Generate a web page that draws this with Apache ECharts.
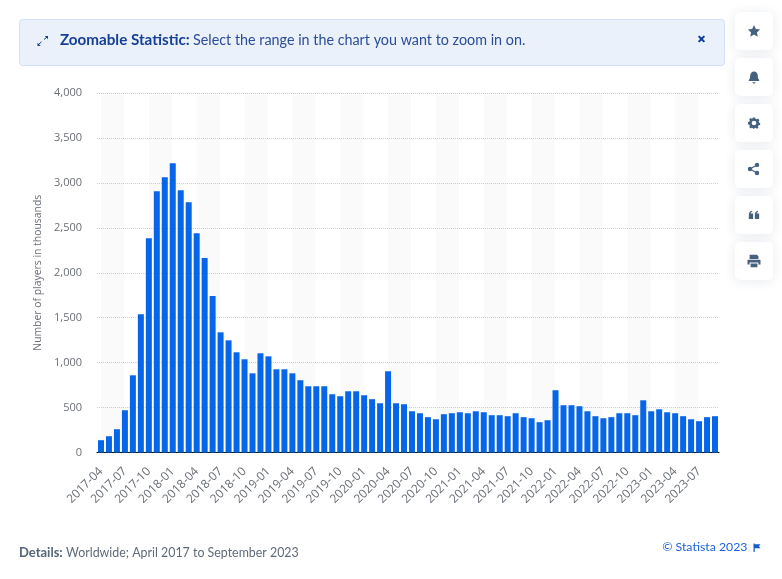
<!DOCTYPE html>
<html><head><meta charset="utf-8">
<style>html,body{margin:0;padding:0;background:#fff;overflow:hidden}#c{width:782px;height:579px}</style>
<script src="https://cdn.jsdelivr.net/npm/echarts@6/dist/echarts.min.js"></script>
</head><body><div id="c"></div>
<script>
const categories = ["2017-04","2017-05","2017-06","2017-07","2017-08","2017-09","2017-10","2017-11","2017-12",
"2018-01","2018-02","2018-03","2018-04","2018-05","2018-06","2018-07","2018-08","2018-09","2018-10","2018-11","2018-12",
"2019-01","2019-02","2019-03","2019-04","2019-05","2019-06","2019-07","2019-08","2019-09","2019-10","2019-11","2019-12",
"2020-01","2020-02","2020-03","2020-04","2020-05","2020-06","2020-07","2020-08","2020-09","2020-10","2020-11","2020-12",
"2021-01","2021-02","2021-03","2021-04","2021-05","2021-06","2021-07","2021-08","2021-09","2021-10","2021-11","2021-12",
"2022-01","2022-02","2022-03","2022-04","2022-05","2022-06","2022-07","2022-08","2022-09","2022-10","2022-11","2022-12",
"2023-01","2023-02","2023-03","2023-04","2023-05","2023-06","2023-07","2023-08","2023-09"];
const players = [137,181,259,470,859,1537,2385,2907,3063,3218,2918,2785,2440,2163,1740,1337,1248,1115,1037,881,1104,1070,
926,926,881,804,737,737,737,648,626,681,681,637,593,548,904,548,537,459,437,393,370,426,437,448,437,459,448,415,415,404,
437,393,381,337,359,693,526,526,515,459,404,381,393,437,437,415,581,459,481,448,437,404,370,348,393,404];
const bandStarts = ["2017-04","2017-10","2018-04","2018-10","2019-04","2019-10","2020-04","2020-10","2021-04","2021-10","2022-04","2022-10","2023-04"];
const bandEnds   = ["2017-07","2018-01","2018-07","2019-01","2019-07","2020-01","2020-07","2021-01","2021-07","2022-01","2022-07","2023-01","2023-07"];
const yTicks = {min:0,max:4000,interval:500};
const yTitle = "Number of players in thousands";
const noticeBold = "Zoomable Statistic:";
const noticeText = "Select the range in the chart you want to zoom in on.";
const detailsBold = "Details:";
const detailsText = "Worldwide; April 2017 to September 2023";
const copyright = "© Statista 2023";

const FONT = '"Open Sans"';
const TEXTFONT = 'Lato';
const ICON = '#46607f';
const buttonTops = [12,58,104,150,196,242];
const buttons = buttonTops.map(t => ({type:'rect',shape:{x:735,y:t,width:38,height:38,r:5},
  style:{fill:'#fff',shadowBlur:12,shadowColor:'rgba(20,50,100,0.10)',shadowOffsetY:1},silent:true}));
let iconId = 0;
const at = (x,y,d,extra) => {
  const name = 'iconShape' + (iconId++);
  echarts.graphic.registerShape(name, echarts.graphic.extendPath(d, {}));
  return Object.assign({type:name,x,y,style:{fill:ICON},silent:true},extra||{});
};
const icons = [
  at(754,31,'M0-6.5L2-2.2 6.6-1.6 3.2 1.6 4.1 6.2 0 3.9-4.1 6.2-3.2 1.6-6.6-1.6-2-2.2Z',{scaleX:.92,scaleY:.92}),
  at(754,77,'M-5.2 3C-3.8 1.6-3.8 0-3.8-1.5-3.8-3.8-2.2-5.6 0-5.6 2.2-5.6 3.8-3.8 3.8-1.5 3.8 0 3.8 1.6 5.2 3L5.2 4-5.2 4ZM-1.6 5.2L1.6 5.2C1.4 6.2.8 6.6 0 6.6-.8 6.6-1.4 6.2-1.6 5.2Z'),
  at(754,122.8,'M-1.3-6.3L1.3-6.3 1.7-4.6 3.2-4 4.7-4.9 6.4-3.1 5.5-1.7 5.9-.2 7.3.2 7 2.6 5.4 2.9 4.6 4.2 5.2 5.7 3.2 7 2 5.8.5 6.2 0 7.3-1.5 6.2-2.6 5.7-3.9 6.5-5.5 5-4.8 3.5-5.5 2.2-7 1.6-7-.8-5.5-1.3-4.9-2.7-5.6-4.2-3.8-5.7-2.5-4.8-1.6-5Z',{scaleX:.86,scaleY:.86}),
  {type:'circle',shape:{cx:754,cy:123,r:2.3},style:{fill:'#fff'},silent:true},
  {type:'circle',shape:{cx:757,cy:164.9,r:2.2},style:{fill:ICON},silent:true},
  {type:'circle',shape:{cx:757,cy:173,r:2.2},style:{fill:ICON},silent:true},
  {type:'circle',shape:{cx:750,cy:169,r:2.2},style:{fill:ICON},silent:true},
  {type:'polyline',shape:{points:[[757,164.9],[750,169],[757,173]]},style:{stroke:ICON,lineWidth:1.2,fill:null},silent:true},
  at(754,215,'M-6-.5C-6-3-4.6-4.6-2.4-5L-2.4-3.4C-3.2-3.2-3.8-2.6-3.9-1.6L-1-1.6-1 4.6-6 4.6ZM1-.5C1-3 2.4-4.6 4.6-5L4.6-3.4C3.8-3.2 3.2-2.6 3.1-1.6L6-1.6 6 4.6 1 4.6Z',{scaleX:.86,scaleY:.86}),
  at(754,261,'M-4.4-6.2L3-6.2 4.4-4.8 4.4-2-4.4-2ZM-6-1.2L6-1.2C6.4-1.2 6.5-1 6.5-.6L6.5 3.4 4.4 3.4 4.4 1.4-4.4 1.4-4.4 3.4-6.5 3.4-6.5-.6C-6.5-1-6.4-1.2-6-1.2ZM-3.4 2.6L3.4 2.6 3.4 6.2-3.4 6.2Z')
];
const notice = [
  {type:'rect',shape:{x:19.5,y:19.5,width:705,height:46,r:3},style:{fill:'#eaf1fb',stroke:'#d2dff5',lineWidth:1},silent:true},
  {type:'text',x:60,y:40,silent:true,style:{text:'{b|'+noticeBold+'} {n|'+noticeText+'}',verticalAlign:'middle',
    rich:{b:{font:'700 15.2px '+TEXTFONT,fill:'#163f96'},n:{font:'400 14.35px '+TEXTFONT,fill:'#2c4d97'}}}},
  {type:'line',shape:{x1:38,y1:45,x2:41.5,y2:41.8},style:{stroke:'#163f96',lineWidth:1},silent:true},
  {type:'line',shape:{x1:44,y1:39.5,x2:47.5,y2:36.5},style:{stroke:'#163f96',lineWidth:1},silent:true},
  at(37.5,46,'M0 0L0-3.2 3.2 0Z',{style:{fill:'#163f96'}}),
  at(48,36,'M0 0L0 3.2-3.2 0Z',{style:{fill:'#163f96'}}),
  at(701.5,39,'M-3.6-2.2L-2.2-3.6 0-1.4 2.2-3.6 3.6-2.2 1.4 0 3.6 2.2 2.2 3.6 0 1.4-2.2 3.6-3.6 2.2-1.4 0Z',{style:{fill:'#0f3f9e'}})
];
const foot = [
  {type:'text',x:19,y:552.5,silent:true,style:{text:'{b|'+detailsBold+'} {n|'+detailsText+'}',verticalAlign:'middle',
    rich:{b:{font:'700 13px '+TEXTFONT,fill:'#56677a'},n:{font:'400 12.4px '+TEXTFONT,fill:'#5f6b78'}}}},
  {type:'text',x:747.5,y:547.5,silent:true,style:{text:copyright,align:'right',verticalAlign:'middle',font:'400 12.3px '+TEXTFONT,fill:'#1b62d6'}},
  at(753.5,543.5,'M0 0L1.2 0 1.2 .8 7 .8 5.4 2.8 7 4.8 1.2 4.8 1.2 8.4 0 8.4Z',{style:{fill:'#1558c8'}})
];

const chart = echarts.init(document.getElementById('c'),null,{renderer:'canvas'});
chart.setOption({
  animation:false,
  backgroundColor:'#fff',
  grid:{left:97,top:93,width:622,height:359.5,containLabel:false},
  xAxis:[{type:'category',data:categories,boundaryGap:true,
    axisLine:{show:true,lineStyle:{color:'#111',width:1.2}},axisTick:{show:false},splitLine:{show:false},
    axisLabel:{interval:2,rotate:45,color:'#6a6f76',fontFamily:FONT,fontSize:12,margin:17,hideOverlap:false}},
    {type:'value',show:false,min:-0.5,max:categories.length-0.5,splitLine:{show:false}}],
  yAxis:{type:'value',min:yTicks.min,max:yTicks.max,interval:yTicks.interval,
    name:yTitle,nameLocation:'middle',nameGap:46,nameRotate:90,
    nameTextStyle:{color:'#6a6f76',fontFamily:FONT,fontSize:10.4},
    axisLine:{show:false},axisTick:{show:false},
    axisLabel:{color:'#6a6f76',fontFamily:FONT,fontSize:11,margin:15,formatter:v=>v.toLocaleString('en-US')},
    splitLine:{show:true,lineStyle:{color:'#cfcfcf',type:[1,1],width:1}}},
  series:[
    {type:'line',xAxisIndex:1,data:[],silent:true,
      markArea:{silent:true,itemStyle:{color:'rgba(0,0,0,0.02)'},label:{show:false},
        data:bandStarts.map((s,i)=>[{xAxis:categories.indexOf(s)},{xAxis:categories.indexOf(bandEnds[i])-0.1}])}},
    {type:'bar',data:players,barWidth:6,itemStyle:{color:'#0766e8'},silent:true}],
  graphic:{elements:[...buttons,...icons,...notice,...foot]}
});
</script></body></html>
